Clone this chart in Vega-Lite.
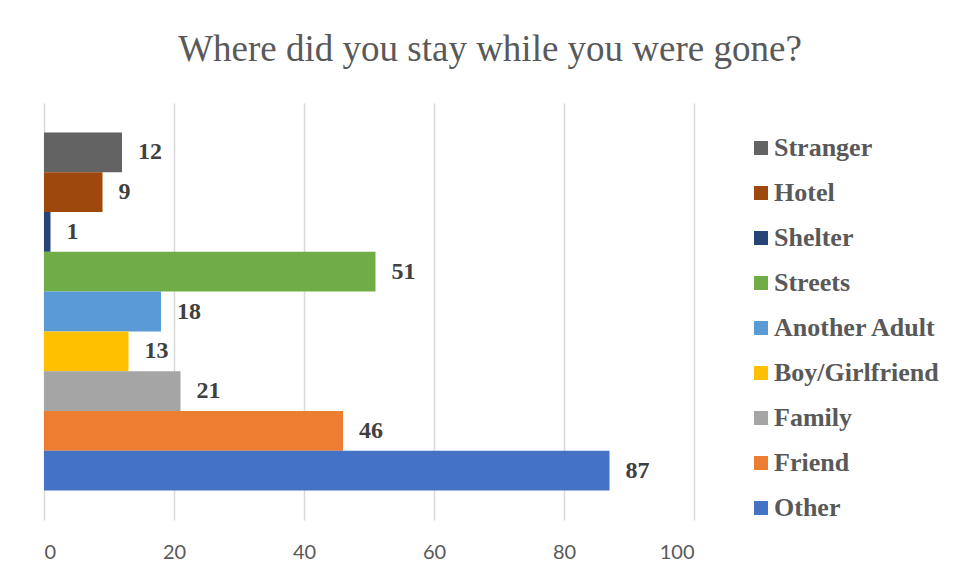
{
  "$schema": "https://vega.github.io/schema/vega-lite/v6.json",
  "autosize": "none",
  "width": 650,
  "height": 417,
  "padding": {"left": 44, "top": 103, "right": 264, "bottom": 58},
  "background": "white",
  "title": {
    "text": "Where did you stay while you were gone?",
    "anchor": "middle",
    "dx": 121,
    "offset": 5,
    "baseline": "alphabetic",
    "font": "Liberation Serif",
    "fontSize": 37,
    "fontWeight": "normal",
    "color": "#595959"
  },
  "data": {
    "values": [
      {"place": "Stranger", "count": 12},
      {"place": "Hotel", "count": 9},
      {"place": "Shelter", "count": 1},
      {"place": "Streets", "count": 51},
      {"place": "Another Adult", "count": 18},
      {"place": "Boy/Girlfriend", "count": 13},
      {"place": "Family", "count": 21},
      {"place": "Friend", "count": 46},
      {"place": "Other", "count": 87}
    ]
  },
  "encoding": {
    "y": {
      "field": "place",
      "type": "nominal",
      "sort": null,
      "scale": {"paddingInner": 0, "paddingOuter": 0.74},
      "axis": null
    },
    "x": {
      "field": "count",
      "type": "quantitative",
      "scale": {"domain": [0, 100], "nice": false},
      "axis": {
        "values": [0, 20, 40, 60, 80, 100],
        "title": null,
        "domain": false,
        "ticks": false,
        "grid": true,
        "gridColor": "#d9d9d9",
        "gridWidth": 1.5,
        "labelPadding": 22,
        "labelFont": "Lato",
        "labelFontSize": 20,
        "labelColor": "#595959"
      }
    }
  },
  "layer": [
    {
      "mark": {"type": "bar"},
      "encoding": {
        "color": {
          "field": "place",
          "type": "nominal",
          "sort": null,
          "scale": {
            "domain": ["Stranger", "Hotel", "Shelter", "Streets", "Another Adult", "Boy/Girlfriend", "Family", "Friend", "Other"],
            "range": ["#636363", "#9E480E", "#264478", "#70AD47", "#5B9BD5", "#FFC000", "#A5A5A5", "#ED7D31", "#4472C4"]
          },
          "legend": {
            "title": null,
            "orient": "none",
            "legendX": 704,
            "legendY": 32,
            "padding": 0,
            "symbolType": "square",
            "symbolSize": 196,
            "symbolStrokeWidth": 0,
            "symbolOpacity": 1,
            "labelFont": "Liberation Serif",
            "labelFontSize": 26,
            "labelFontWeight": "bold",
            "labelColor": "#595959",
            "labelOffset": 0,
            "rowPadding": 19,
            "labelLimit": 300
          }
        }
      }
    },
    {
      "mark": {
        "type": "text",
        "align": "left",
        "baseline": "middle",
        "dx": 16,
        "font": "Liberation Serif",
        "fontSize": 24,
        "fontWeight": "bold",
        "color": "#404040"
      },
      "encoding": {
        "text": {"field": "count", "type": "quantitative"}
      }
    }
  ],
  "config": {
    "view": {"stroke": null}
  }
}
